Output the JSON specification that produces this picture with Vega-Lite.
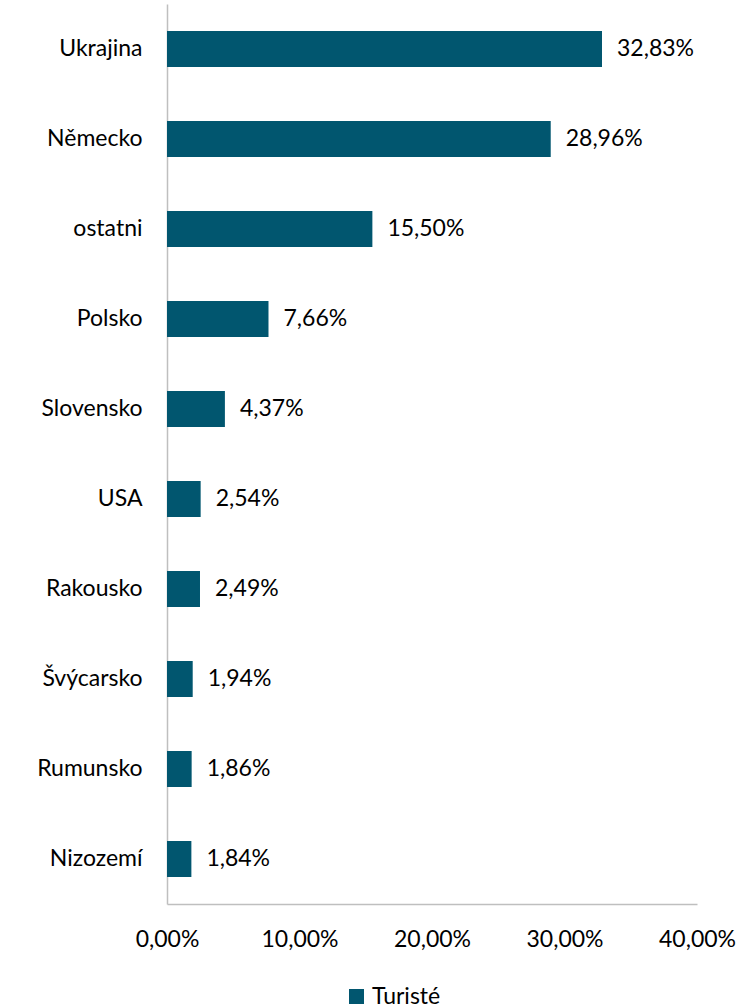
{
  "$schema": "https://vega.github.io/schema/vega-lite/v6.json",
  "width": 530,
  "height": 900,
  "autosize": {"type": "none"},
  "padding": {"left": 167, "top": 4, "right": 44, "bottom": 104},
  "background": "white",
  "config": {
    "locale": {"number": {"decimal": ",", "thousands": " ", "grouping": [3], "currency": ["", " Kč"]}},
    "view": {"stroke": null},
    "font": "Lato"
  },
  "data": {
    "values": [
      {"zeme": "Ukrajina", "podil": 0.3283, "serie": "Turisté"},
      {"zeme": "Německo", "podil": 0.2896, "serie": "Turisté"},
      {"zeme": "ostatni", "podil": 0.1550, "serie": "Turisté"},
      {"zeme": "Polsko", "podil": 0.0766, "serie": "Turisté"},
      {"zeme": "Slovensko", "podil": 0.0437, "serie": "Turisté"},
      {"zeme": "USA", "podil": 0.0254, "serie": "Turisté"},
      {"zeme": "Rakousko", "podil": 0.0249, "serie": "Turisté"},
      {"zeme": "Švýcarsko", "podil": 0.0194, "serie": "Turisté"},
      {"zeme": "Rumunsko", "podil": 0.0186, "serie": "Turisté"},
      {"zeme": "Nizozemí", "podil": 0.0184, "serie": "Turisté"}
    ]
  },
  "encoding": {
    "y": {
      "field": "zeme", "type": "nominal", "sort": null,
      "scale": {"paddingInner": 0.6, "paddingOuter": 0.3},
      "axis": {"title": null, "ticks": false, "domainColor": "#bfbfbf", "domainWidth": 1.5, "labelFontSize": 23, "labelColor": "#000000", "labelPadding": 25, "labelFont": "Lato"}
    },
    "x": {
      "field": "podil", "type": "quantitative",
      "scale": {"domain": [0, 0.4]},
      "axis": {"title": null, "format": ".2%", "values": [0, 0.1, 0.2, 0.3, 0.4], "grid": false, "ticks": false, "domainColor": "#bfbfbf", "domainWidth": 1.5, "labelFontSize": 23, "labelColor": "#000000", "labelPadding": 24, "labelFont": "Lato", "labelFlush": false}
    }
  },
  "layer": [
    {
      "mark": {"type": "bar"},
      "encoding": {
        "color": {
          "field": "serie", "type": "nominal",
          "scale": {"range": ["#01566f"]},
          "legend": {"title": null, "orient": "none", "legendX": 178, "legendY": 981, "symbolType": "square", "symbolSize": 225, "labelFontSize": 23, "labelColor": "#000000", "labelFont": "Lato", "symbolStrokeWidth": 0, "labelOffset": 4}
        }
      }
    },
    {
      "mark": {"type": "text", "align": "left", "baseline": "middle", "dx": 15, "fontSize": 23, "color": "#000000", "font": "Lato"},
      "encoding": {"text": {"field": "podil", "type": "quantitative", "format": ".2%"}}
    }
  ]
}
